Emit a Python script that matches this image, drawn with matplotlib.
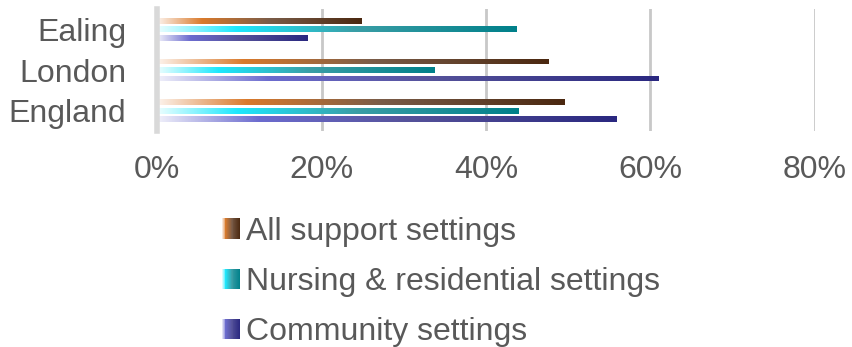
import matplotlib
matplotlib.use("Agg")
import matplotlib.pyplot as plt
import numpy as np
from matplotlib.colors import LinearSegmentedColormap
from matplotlib.legend_handler import HandlerBase
from matplotlib.patches import Rectangle

areas = ["Ealing", "London", "England"]
all_support = [0.249, 0.476, 0.495]
nursing = [0.437, 0.337, 0.439]
community = [0.183, 0.610, 0.559]
series_names = ["All support settings", "Nursing & residential settings", "Community settings"]
ticks = [0, 0.2, 0.4, 0.6, 0.8]

plt.rcParams["font.family"] = ["Liberation Sans", "DejaVu Sans"]
grey = "#595959"

# light tint -> vivid -> dark, one ramp per series
ramps = [
    LinearSegmentedColormap.from_list("all", [(0, "#fdf3ec"), (0.22, "#d97a2c"), (0.55, "#7a5c48"), (1, "#4b2810")]),
    LinearSegmentedColormap.from_list("nurs", [(0, "#ecfeff"), (0.22, "#1ee8fd"), (0.55, "#3a9ea6"), (1, "#00808a")]),
    LinearSegmentedColormap.from_list("comm", [(0, "#f0f0fa"), (0.22, "#6c6ccf"), (0.55, "#55529a"), (1, "#2a2880")]),
]


class GradientHandler(HandlerBase):
    def __init__(self, cmap):
        super().__init__()
        self.cmap = cmap

    def create_artists(self, legend, orig_handle, xdescent, ydescent,
                       width, height, fontsize, trans):
        n = 20
        h = 15
        y0 = -ydescent + (height - h) / 2
        arts = []
        for i in range(n):
            arts.append(Rectangle((-xdescent + width * i / n, y0), width / n + 0.3, h,
                                  facecolor=self.cmap((i + 0.5) / n), edgecolor="none",
                                  transform=trans))
        return arts


fig = plt.figure(figsize=(8.53, 3.47), dpi=100)
ax = fig.add_axes([157 / 853, 1 - 131 / 347, (815 - 157) / 853, 122 / 347])

y = np.arange(len(areas))
h = 0.14
containers = []
for k, vals in enumerate([all_support, nursing, community]):
    bars = ax.barh(y + (k - 1) * 0.21, vals, height=h, facecolor="none",
                   edgecolor="none", label=series_names[k], zorder=3)
    containers.append(bars)
    grad = ramps[k](np.linspace(0, 1, 256))[None, :, :3]
    for p in bars.patches:
        x0, y0 = p.get_x(), p.get_y()
        im = ax.imshow(grad, extent=[x0, x0 + p.get_width(), y0 + p.get_height(), y0],
                       aspect="auto", interpolation="bilinear", zorder=3)
        im.set_clip_path(p)

ax.set_xlim(0, 0.8)
ax.set_ylim(2.5, -0.5)
ax.set_xticks(ticks)
ax.set_xticklabels([f"{int(t * 100)}%" for t in ticks])
ax.set_yticks(y)
ax.set_yticklabels(areas)
ax.tick_params(length=0, labelsize=23, colors=grey)
ax.tick_params(axis="x", pad=17)
ax.tick_params(axis="y", pad=22)
ax.grid(axis="x", color="#c8c8c8", linewidth=2, zorder=0)
ax.set_axisbelow(True)
for s in ["top", "right", "bottom"]:
    ax.spines[s].set_visible(False)
ax.spines["left"].set_color("#d9d9d9")
ax.spines["left"].set_linewidth(4)
ax.spines["left"].set_zorder(4)

leg = fig.legend(containers, series_names, loc="upper left",
                 bbox_to_anchor=(206 / 853, 1 - 201 / 347), frameon=False,
                 fontsize=23, labelcolor=grey, handlelength=0.55, handleheight=0.7,
                 handletextpad=0.2, labelspacing=0.63, borderpad=0,
                 handler_map={c: GradientHandler(ramps[i]) for i, c in enumerate(containers)})

fig.savefig("out.png", dpi=100, facecolor="white")
